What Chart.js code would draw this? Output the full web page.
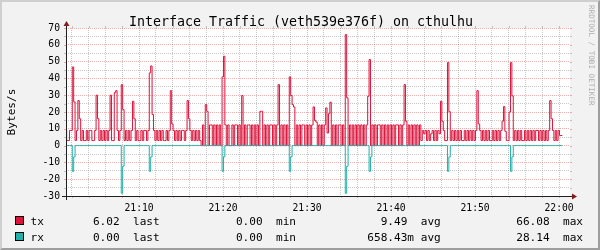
<!DOCTYPE html>
<html><head><meta charset="utf-8">
<script src="https://cdn.jsdelivr.net/npm/chart.js@4"></script>
<style>
html,body{margin:0;padding:0;background:#F2F2F2;}
#wrap{position:relative;width:600px;height:250px;background:#F2F2F2;overflow:hidden;}
#frame{position:absolute;left:0;top:0;width:600px;height:250px;box-sizing:border-box;border-style:solid;border-width:2px;border-color:#CFCFCF #9E9E9E #9E9E9E #CFCFCF;pointer-events:none;}
canvas{position:absolute;left:0;top:0;}
</style></head><body>
<div id="wrap"><div id="frame"></div><canvas id="c" width="600" height="250"></canvas></div>
<script>
// ---- data (10 s samples, start ~21:01:23) ----
const titleText = 'Interface Traffic (veth539e376f) on cthulhu';
const unitLabel = 'Bytes/s';
const watermark = 'RRDTOOL / TOBI OETIKER';
const X_MIN = 1.3, X_MAX = 61.3;          // minutes after 21:00
const SAMPLE_START = 1.38;                // minutes after 21:00
const SAMPLE_STEP = 10 / 60;              // minutes
const xGridMinutes = [2,4,6,8,10,12,14,16,18,20,22,24,26,28,30,32,34,36,38,40,42,44,46,48,50,52,54,56,58,60];
const xTickMinutes = [10,20,30,40,50,60];
const xTickLabels = ['21:10','21:20','21:30','21:40','21:50','22:00'];
const yGridValues = [-30,-25,-20,-15,-10,-5,0,5,10,15,20,25,30,35,40,45,50,55,60,65,70];
const yTickValues = [-30,-20,-10,0,10,20,30,40,50,60,70];
const yTickLabels = ['-30','-20','-10','0','10','20','30','40','50','60','70'];

const txVals = [
 9,3,3,9,9,46.8,26,3,9,26.8,
 16,3,9,3,3,9,3,9,9,3,
 3,9,30,16,3,9,3,9,3,9,
 3,9,30,3,3,31.5,32.7,9,3,9,
 36.3,21.4,3,9,3,9,3,9,26.4,16,
 3,9,3,3,9,3,9,9,3,9,
 43.3,47.4,18.5,9,3,9,3,9,3,9,
 3,3,9,3,9,32.7,12.9,9,3,9,
 3,9,3,9,9,3,9,26.8,16,9,
 3,9,3,9,3,9,3,
 0,12.3,0,
 24.4,20.4,0,12.3,12.3,0,12.3,0,12.3,0,
 12.3,0,40.9,53.2,12.3,0,12.3,0,0,12.3,
 0,12.3,12.3,0,12.3,0,29.8,0,12.3,0,
 12.3,12.3,0,12.3,0,12.3,0,12.3,0,20.4,
 20.4,0,12.3,0,12.3,0,12.3,12.3,0,12.3,
 0,12.3,36.3,0,12.3,0,12.3,0,12.3,0,
 40.9,29.8,24.4,23,0,12.3,0,12.3,0,12.3,
 12.3,0,12.3,0,12.3,0,12.3,23,15,14,
 0,12.3,0,12.3,0,12.3,22.4,7.5,19,25.8,
 0,12.3,0,12.3,0,12.3,12.3,0,12.3,0,
 66.1,28.4,0,12.3,0,12.3,0,12.3,0,12.3,
 0,12.3,0,12.3,0,12.3,29.4,51.2,0,12.3,
 0,12.3,0,12.3,12.3,0,12.3,0,12.3,0,
 12.3,0,12.3,0,12.3,0,12.3,12.3,0,12.3,
 0,12.3,36.3,14.5,0,12.3,0,12.3,0,12.3,
 0,12.3,0,12.3,
 3,9,7,9,3,9,
 3,7,9,3,9,3,9,7,26.4,14.5,
 9,3,3,49.4,20.2,3,9,3,9,3,
 9,3,9,3,3,9,3,9,3,9,
 3,9,3,9,32.7,12.9,9,3,9,3,
 9,3,9,3,3,9,3,9,3,9,
 3,9,14.5,23.2,8.5,3,3,20,49.4,29.6,
 3,9,3,9,3,9,3,3,9,3,
 9,3,9,3,9,3,9,9,3,9,
 3,9,3,9,3,9,26.8,16,9,3,
 9,3,9,6.02
];
const rxVals = [
 0,0,0,0,0,-15.3,-6.7,0,0,0,
 0,0,0,0,0,0,0,0,0,0,
 0,0,0,0,0,0,0,0,0,0,
 0,0,0,0,0,0,0,0,0,0,
 -28.4,-12.3,0,0,0,0,0,0,0,0,
 0,0,0,0,0,0,0,0,0,0,
 -15.3,-6.7,0,0,0,0,0,0,0,0,
 0,0,0,0,0,0,0,0,0,0,
 0,0,0,0,0,0,0,0,0,0,
 0,0,0,0,0,0,0,0,0,0,
 0,0,0,0,0,0,0,0,0,0,
 0,0,-15.3,-6.7,0,0,0,0,0,0,
 0,0,0,0,0,0,0,0,0,0,
 0,0,0,0,0,0,0,0,0,0,
 0,0,0,0,0,0,0,0,0,0,
 0,0,0,0,0,0,0,0,0,0,
 -15.3,-6.7,0,0,0,0,0,0,0,0,
 0,0,0,0,0,0,0,0,0,0,
 0,0,0,0,0,0,0,0,0,0,
 0,0,0,0,0,0,0,0,0,0,
 -28.4,-12.3,0,0,0,0,0,0,0,0,
 0,0,0,0,0,0,0,-15.3,-6.7,0,
 0,0,0,0,0,0,0,0,0,0,
 0,0,0,0,0,0,0,0,0,0,
 0,0,0,0,0,0,0,0,0,0,
 0,0,0,0,0,0,0,0,0,0,
 0,0,0,0,0,0,0,0,0,0,
 0,0,0,-15.3,-6.7,0,0,0,0,0,
 0,0,0,0,0,0,0,0,0,0,
 0,0,0,0,0,0,0,0,0,0,
 0,0,0,0,0,0,0,0,0,0,
 0,0,0,0,0,0,0,0,-15.3,-6.7,
 0,0,0,0,0,0,0,0,0,0,
 0,0,0,0,0,0,0,0,0,0,
 0,0,0,0,0,0,0,0,0,0,
 0,0,0,0
];
const seriesNames = ['tx','rx'];
const seriesColors = ['#DC143C','#20B2AA'];
const statLabels = ['last','min','avg','max'];
const statValues = [
  ['6.02','0.00','9.49','66.08'],      // tx
  ['0.00','0.00','658.43m','28.14']    // rx
];

// ---- styles / layout ----
const FONT = '"DejaVu Sans Mono", monospace';
const MINOR = 'rgba(143,143,143,0.5)';
const MAJOR = 'rgba(222,79,79,0.45)';
const AXIS = '#1F1F1F';
const ARROW = '#801F1F';
const statLabelX = [133, 276, 420.7, 563];
const legendRowBase = [225, 241];

function toPoints(vals){
  const pts = vals.map((v,i)=>({x: SAMPLE_START + i*SAMPLE_STEP, y: v}));
  pts.push({x: SAMPLE_START + vals.length*SAMPLE_STEP, y: vals[vals.length-1]});
  return pts;
}

const rrdPlugin = {
  id: 'rrd',
  beforeDraw(chart){
    const {ctx, chartArea:a} = chart;
    ctx.save();
    ctx.fillStyle = '#FFFFFF';
    ctx.fillRect(a.left, a.top, a.right-a.left, a.bottom-a.top);
    ctx.restore();
  },
  afterDraw(chart){
    const {ctx, chartArea:a, scales} = chart;
    const xs = scales.x, ys = scales.y;
    const L = a.left, R = a.right, T = a.top, B = a.bottom;
    ctx.save();
    ctx.lineWidth = 1;
    const seg = (x1,y1,x2,y2,c)=>{ctx.strokeStyle=c;ctx.beginPath();ctx.moveTo(x1,y1);ctx.lineTo(x2,y2);ctx.stroke();};
    yGridValues.forEach(v=>{
      const py = Math.round(ys.getPixelForValue(v))+0.5;
      const c = (v%10===0)?MAJOR:MINOR;
      seg(L-2,py,L,py,c); seg(R,py,R+2,py,c);
    });
    xGridMinutes.forEach(m=>{
      const px = Math.round(xs.getPixelForValue(m))+0.5;
      const c = (m%10===0)?MAJOR:MINOR;
      seg(px,B,px,B+2,c); seg(px,T-2,px,T,c);
    });
    const by = Math.round(B)+0.5, lx = Math.round(L)+0.5;
    seg(L-4,by,R+4,by,AXIS);
    seg(lx,B+4,lx,T-4,AXIS);
    ctx.fillStyle = ARROW;
    ctx.beginPath(); ctx.moveTo(R+2,by-3); ctx.lineTo(R+2,by+3); ctx.lineTo(R+7,by); ctx.closePath(); ctx.fill();
    ctx.beginPath(); ctx.moveTo(lx-3,T-2); ctx.lineTo(lx+3,T-2); ctx.lineTo(lx,T-7); ctx.closePath(); ctx.fill();
    // title
    ctx.fillStyle = '#000';
    ctx.font = '13.3px ' + FONT;
    ctx.textAlign = 'center'; ctx.textBaseline = 'alphabetic';
    ctx.fillText(titleText, 301, 26);
    // legend
    ctx.font = '11.1px ' + FONT;
    const cw = ctx.measureText('0').width;
    seriesNames.forEach((n,i)=>{
      const b = legendRowBase[i];
      ctx.fillStyle = seriesColors[i];
      ctx.fillRect(15, b-9, 9, 9);
      ctx.strokeStyle = '#000';
      ctx.strokeRect(15.5, b-8.5, 8, 8);
      ctx.fillStyle = '#000';
      ctx.textAlign = 'left';
      ctx.fillText(n, 30.5, b);
      statLabels.forEach((lab,k)=>{
        const txt = statValues[i][k];
        const hasUnit = /[a-zA-Z]$/.test(txt);
        ctx.textAlign = 'right';
        ctx.fillText(txt, statLabelX[k] - (hasUnit?1:2)*cw, b);
        ctx.textAlign = 'left';
        ctx.fillText(lab, statLabelX[k], b);
      });
    });
    // watermark
    ctx.save();
    ctx.translate(591, 5);
    ctx.rotate(Math.PI/2);
    ctx.fillStyle = 'rgba(0,0,0,0.3)';
    ctx.font = '7.6px ' + FONT;
    ctx.textAlign = 'left'; ctx.textBaseline = 'middle';
    ctx.fillText(watermark, 0, 0);
    ctx.restore();
    ctx.restore();
  }
};

new Chart(document.getElementById('c'), {
  type: 'line',
  data: {
    datasets: [
      {label:'rx', data: toPoints(rxVals), borderColor: seriesColors[1], borderWidth:1, stepped:'after', pointRadius:0, fill:false},
      {label:'tx', data: toPoints(txVals), borderColor: seriesColors[0], borderWidth:1, stepped:'after', pointRadius:0, fill:false}
    ]
  },
  options: {
    responsive:false, animation:false, devicePixelRatio:1,
    layout:{padding:{left:0,right:30,top:28,bottom:0}},
    plugins:{legend:{display:false}, tooltip:{enabled:false}, title:{display:false}},
    scales:{
      x:{type:'linear', min:X_MIN, max:X_MAX,
        afterBuildTicks: s=>{ s.ticks = xGridMinutes.map(v=>({value:v})); },
        afterFit: s=>{ s.height = 54; },
        ticks:{autoSkip:false, maxRotation:0, padding:7, color:'#000', font:{family:FONT,size:9.7},
          callback:(v)=>{ const i = xTickMinutes.indexOf(v); return i>=0 ? xTickLabels[i] : ''; }},
        grid:{drawTicks:false, lineWidth:1, borderDash:[1,1], color: c=> (c.tick && c.tick.value%10===0)?MAJOR:MINOR},
        border:{display:false, dash:[1,1]}
      },
      y:{min:-30, max:70,
        afterBuildTicks: s=>{ s.ticks = yGridValues.map(v=>({value:v})); },
        afterFit: s=>{ s.width = 66; },
        ticks:{autoSkip:false, padding:6, color:'#000', font:{family:FONT,size:9.7},
          callback:(v)=>{ const i = yTickValues.indexOf(v); return i>=0 ? yTickLabels[i] : ''; }},
        grid:{drawTicks:false, lineWidth:1, borderDash:[1,1], color: c=> (c.tick && c.tick.value%10===0)?MAJOR:MINOR},
        border:{display:false, dash:[1,1]},
        title:{display:true, text:unitLabel, color:'#000', font:{family:FONT,size:11.1}, padding:{top:5,bottom:0}}
      }
    }
  },
  plugins:[rrdPlugin]
});
</script>
</body></html>
